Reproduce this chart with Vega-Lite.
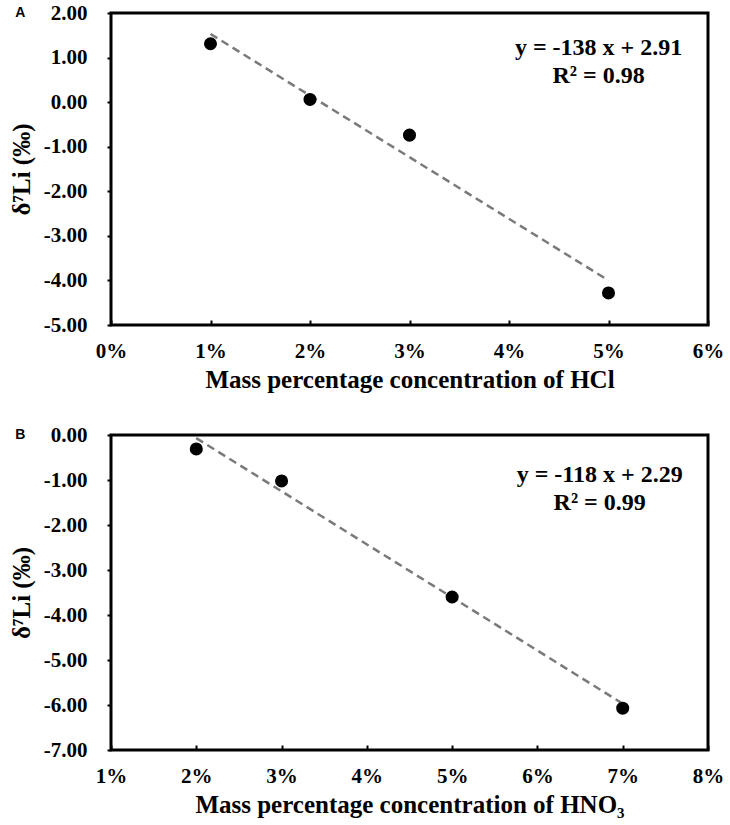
{
  "$schema": "https://vega.github.io/schema/vega-lite/v6.json",
  "background": "white",
  "padding": {"left": 7, "top": 0, "right": 5, "bottom": 5},
  "config": {
    "locale": {"number": {"decimal": ".", "thousands": ",", "grouping": [3], "currency": ["$", ""], "minus": "-"}},
    "view": {"stroke": "black", "strokeWidth": 3},
    "axis": {
      "grid": false,
      "domain": false,
      "labelFont": "Liberation Serif",
      "labelFontWeight": "bold",
      "labelFontSize": 21,
      "labelColor": "black",
      "titleFont": "Liberation Serif",
      "titleFontWeight": "bold",
      "titleFontSize": 25,
      "titleColor": "black",
      "tickColor": "black",
      "tickWidth": 2
    },
    "axisX": {"tickSize": -5, "labelPadding": 20, "titlePadding": 6, "labelFlush": false},
    "axisY": {"tickSize": 4, "labelPadding": 20, "titlePadding": 9},
    "title": {"font": "Liberation Sans", "fontSize": 14, "fontWeight": "bold", "color": "black", "anchor": "start", "frame": "bounds", "offset": 0}
  },
  "datasets": {
    "hcl": [
      {"conc": 0.01, "d7li": 1.31},
      {"conc": 0.02, "d7li": 0.06},
      {"conc": 0.03, "d7li": -0.74},
      {"conc": 0.05, "d7li": -4.28}
    ],
    "hcl_fit": [
      {"conc": 0.01, "d7li": 1.53},
      {"conc": 0.05, "d7li": -4.0}
    ],
    "hcl_eq": [
      {"conc": 0.049, "d7li": 1.21, "label": "y = -138 x + 2.91"},
      {"conc": 0.049, "d7li": 0.58, "label": "R² = 0.98"}
    ],
    "hno3": [
      {"conc": 0.02, "d7li": -0.31},
      {"conc": 0.03, "d7li": -1.02},
      {"conc": 0.05, "d7li": -3.6},
      {"conc": 0.07, "d7li": -6.07}
    ],
    "hno3_fit": [
      {"conc": 0.02, "d7li": -0.07},
      {"conc": 0.07, "d7li": -5.97}
    ],
    "hno3_eq": [
      {"conc": 0.0673, "d7li": -0.89, "label": "y = -118 x + 2.29"},
      {"conc": 0.0673, "d7li": -1.51, "label": "R² = 0.99"}
    ]
  },
  "spacing": 28,
  "vconcat": [
    {
      "width": 597,
      "height": 312,
      "title": {"text": "A", "dy": 22, "dx": 6},
      "encoding": {
        "x": {
          "field": "conc",
          "type": "quantitative",
          "scale": {"domain": [0, 0.06], "nice": false, "zero": false},
          "axis": {"format": ".0%", "values": [0, 0.01, 0.02, 0.03, 0.04, 0.05, 0.06], "title": "Mass percentage concentration of HCl"}
        },
        "y": {
          "field": "d7li",
          "type": "quantitative",
          "scale": {"domain": [-5, 2], "nice": false, "zero": false},
          "axis": {"format": ".2f", "values": [-5, -4, -3, -2, -1, 0, 1, 2], "title": "δ⁷Li (‰)"}
        }
      },
      "layer": [
        {
          "data": {"name": "hcl_fit"},
          "mark": {"type": "line", "color": "#7a7a7a", "strokeDash": [8, 5], "strokeWidth": 2.5}
        },
        {
          "data": {"name": "hcl"},
          "mark": {"type": "circle", "size": 170, "color": "black", "opacity": 1}
        },
        {
          "data": {"name": "hcl_eq"},
          "mark": {"type": "text", "font": "Liberation Serif", "fontWeight": "bold", "fontSize": 24, "color": "black"},
          "encoding": {"text": {"field": "label"}}
        }
      ]
    },
    {
      "width": 597,
      "height": 315,
      "title": {"text": "B", "dy": 22, "dx": 6},
      "encoding": {
        "x": {
          "field": "conc",
          "type": "quantitative",
          "scale": {"domain": [0.01, 0.08], "nice": false, "zero": false},
          "axis": {"format": ".0%", "values": [0.01, 0.02, 0.03, 0.04, 0.05, 0.06, 0.07, 0.08], "title": "Mass percentage concentration of HNO₃"}
        },
        "y": {
          "field": "d7li",
          "type": "quantitative",
          "scale": {"domain": [-7, 0], "nice": false, "zero": false},
          "axis": {"format": ".2f", "values": [-7, -6, -5, -4, -3, -2, -1, 0], "title": "δ⁷Li (‰)"}
        }
      },
      "layer": [
        {
          "data": {"name": "hno3_fit"},
          "mark": {"type": "line", "color": "#7a7a7a", "strokeDash": [8, 5], "strokeWidth": 2.5}
        },
        {
          "data": {"name": "hno3"},
          "mark": {"type": "circle", "size": 170, "color": "black", "opacity": 1}
        },
        {
          "data": {"name": "hno3_eq"},
          "mark": {"type": "text", "font": "Liberation Serif", "fontWeight": "bold", "fontSize": 24, "color": "black"},
          "encoding": {"text": {"field": "label"}}
        }
      ]
    }
  ]
}
